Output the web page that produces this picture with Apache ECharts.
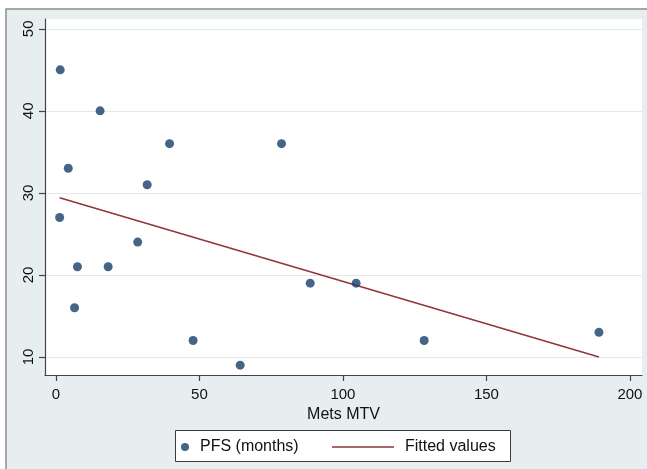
<!DOCTYPE html>
<html>
<head>
<meta charset="utf-8">
<script src="https://cdn.jsdelivr.net/npm/echarts@6/dist/echarts.min.js"></script>
<style>
html,body{margin:0;padding:0;background:#fff;}
#chart{width:647px;height:469px;}
</style>
</head>
<body>
<div id="chart"></div>
<script>
// Data
const metsMTV = [1.5, 15.4, 39.6, 4.3, 31.8, 1.3, 28.5, 7.5, 18.2, 6.5, 47.8, 64.2, 78.6, 88.6, 104.6, 128.3, 189.2];
const pfsMonths = [45, 40, 36, 33, 31, 27, 24, 21, 21, 16, 12, 9, 36, 19, 19, 12, 13];
const fittedX = [1.3, 189.2];
const fittedY = [29.4, 10.0];
const xTicks = [0, 50, 100, 150, 200];
const yTicks = [10, 20, 30, 40, 50];
const seriesNames = ['PFS (months)', 'Fitted values'];
const xTitle = 'Mets MTV';

const scatterData = metsMTV.map((x, i) => [x, pfsMonths[i]]);
const lineData = fittedX.map((x, i) => [x, fittedY[i]]);

const font = 'Liberation Sans, Arial, Helvetica, sans-serif';
const markerColor = '#173f68';
const lineColor = '#90353b';
const chart = echarts.init(document.getElementById('chart'), null, {renderer: 'canvas'});
chart.setOption({
  backgroundColor: '#ffffff',
  animation: false,
  graphic: [
    {type: 'rect', z: -10, shape: {x: 6, y: 9, width: 700, height: 500},
     style: {fill: '#e7eef0', stroke: '#8c8c8c', lineWidth: 1.5}},
    {type: 'rect', z: 1, shape: {x: 175.5, y: 430.5, width: 335, height: 31},
     style: {fill: '#ffffff', stroke: '#3a3a3a', lineWidth: 1}}
  ],
  grid: {left: 45, top: 19, width: 597, height: 356, show: true, backgroundColor: '#ffffff', borderWidth: 0, containLabel: false},
  xAxis: {
    type: 'value', min: -3.8, max: 204.2,
    name: xTitle, nameLocation: 'middle', nameGap: 28,
    nameTextStyle: {fontFamily: font, fontSize: 16, color: '#111'},
    axisLine: {show: true, onZero: false, lineStyle: {color: '#444', width: 1.2}},
    axisTick: {show: true, length: 6, customValues: xTicks, lineStyle: {color: '#444', width: 1.2}},
    axisLabel: {customValues: xTicks, margin: 12, fontFamily: font, fontSize: 15, color: '#111'},
    splitLine: {show: false}
  },
  yAxis: {
    type: 'value', min: 7.8, max: 51.2,
    axisLine: {show: true, onZero: false, lineStyle: {color: '#444', width: 1.2}},
    axisTick: {show: true, length: 6, customValues: yTicks, lineStyle: {color: '#444', width: 1.2}},
    axisLabel: {customValues: yTicks, rotate: 90, margin: 9, fontFamily: font, fontSize: 15, color: '#111'},
    splitLine: {show: true, lineStyle: {color: '#e3e9ec', width: 1.2}}
  },
  legend: [
    {data: [{name: seriesNames[0], icon: 'circle'}], left: 181, top: 439, padding: 0, itemWidth: 20, itemHeight: 8,
     textStyle: {fontFamily: font, fontSize: 16, color: '#111'}},
    {data: [{name: seriesNames[1], icon: 'rect'}], left: 332, top: 439, padding: 0, itemWidth: 62, itemHeight: 1.5,
     itemStyle: {color: lineColor},
     textStyle: {fontFamily: font, fontSize: 16, color: '#111', padding: [0, 0, 0, 6]}}
  ],
  series: [
    {name: seriesNames[0], type: 'scatter', data: scatterData, symbol: 'circle', symbolSize: 9,
     itemStyle: {color: markerColor}, z: 3},
    {name: seriesNames[1], type: 'line', data: lineData, showSymbol: false, symbol: 'none',
     lineStyle: {color: lineColor, width: 1.5}, itemStyle: {color: lineColor}, z: 2}
  ]
});
</script>
</body>
</html>
